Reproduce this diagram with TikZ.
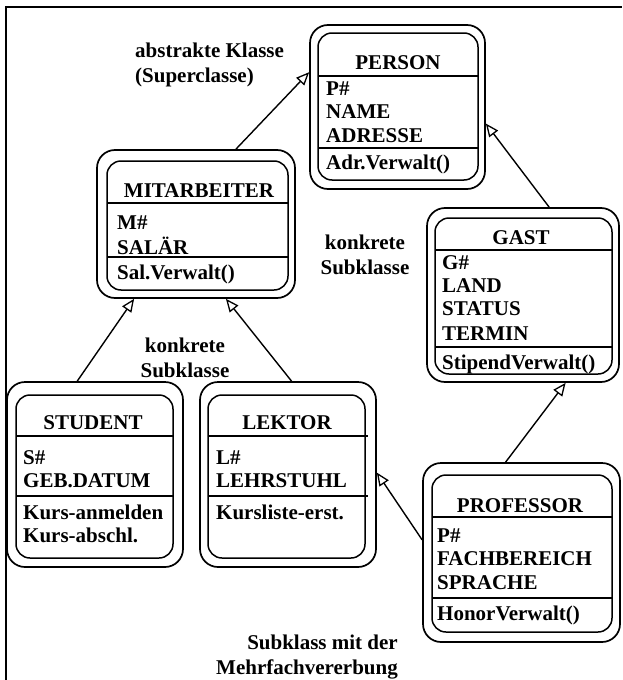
\documentclass[tikz,border=0pt]{standalone}
\usepackage{fontspec}
\setmainfont{Liberation Serif}
\usetikzlibrary{arrows.meta,calc}
\newcommand\ubox[6]{%
  \pgfmathsetmacro\myW{#5-#3}\pgfmathsetmacro\myH{#6-#4}%
  \node[#2, minimum width=\myW pt, minimum height=\myH pt] (#1) at ({(#3+#5)/2},{(#4+#6)/2}) {};}
\begin{document}
\begin{tikzpicture}[x=1pt,y=-1pt,
  outerbox/.style={draw, line width=1.7pt, rounded corners=18pt, inner sep=0pt},
  innerbox/.style={draw, line width=1.5pt, rounded corners=14pt, inner sep=0pt},
  sepline/.style={line width=1.5pt},
  txt/.style={anchor=base west, inner sep=0pt, font=\bfseries\fontsize{21}{23.5}\selectfont},
  ttl/.style={anchor=base, inner sep=0pt, font=\bfseries\fontsize{21}{23.5}\selectfont},
  lbl/.style={inner sep=0pt, font=\bfseries\fontsize{21}{24.5}\selectfont},
  inh/.style={line width=1.4pt, -{Triangle[open, length=13pt, width=11pt, line width=1.3pt]}}]
\useasboundingbox (0,0) rectangle (622,680);
% frame
\draw[line width=2pt] (6,680) -- (6,7) -- (622,7);

% PERSON
\ubox{person}{outerbox}{310}{25}{485}{189}
\ubox{personin}{innerbox}{318}{33}{478}{180}
\node[ttl] (pt) at (398,69) {PERSON};
\draw[sepline] (318,76) -- (479,76);
\node[txt] (p1) at (326,95) {P\#};
\node[txt] (p2) at (326,118) {NAME};
\node[txt] (p3) at (326,142) {ADRESSE};
\draw[sepline] (318,148) -- (478,148);
\node[txt] (p4) at (326,169) {Adr.Verwalt()};

% MITARBEITER
\ubox{mit}{outerbox}{97}{150}{295}{298}
\ubox{mitin}{innerbox}{107}{161}{288}{290}
\node[ttl] (mt) at (199,197) {MITARBEITER};
\draw[sepline] (107,203) -- (289,203);
\node[txt] (m1) at (117,229) {M\#};
\node[txt] (m2) at (117,254) {SAL\"AR};
\draw[sepline] (107,257) -- (288,257);
\node[txt] (m3) at (117,279) {Sal.Verwalt()};

% STUDENT
\ubox{student}{outerbox}{7}{382}{183}{567}
\ubox{studentin}{innerbox}{16}{395}{173}{558}
\node[ttl] (st) at (93,429) {STUDENT};
\draw[sepline] (16,436) -- (174,436);
\node[txt] (s1) at (23,464) {S\#};
\node[txt] (s2) at (23,487) {GEB.DATUM};
\draw[sepline] (16,496) -- (174,496);
\node[txt] (s3) at (23,519) {Kurs-anmelden};
\node[txt] (s4) at (23,542) {Kurs-abschl.};

% LEKTOR
\ubox{lektor}{outerbox}{200}{382}{376}{567}
\ubox{lektorin}{innerbox}{208}{395}{365}{558}
\node[ttl] (lt) at (287,429) {LEKTOR};
\draw[sepline] (208,436) -- (368,436);
\node[txt] (l1) at (216,464) {L\#};
\node[txt] (l2) at (216,487) {LEHRSTUHL};
\draw[sepline] (208,496) -- (368,496);
\node[txt] (l3) at (216,519) {Kursliste-erst.};

% GAST
\ubox{gast}{outerbox}{427}{208}{619}{382}
\ubox{gastin}{innerbox}{435}{218}{612}{374}
\node[ttl] (gt) at (521,244) {GAST};
\draw[sepline] (435,250) -- (612,250);
\node[txt] (g1) at (442,269) {G\#};
\node[txt] (g2) at (442,292) {LAND};
\node[txt] (g3) at (442,315) {STATUS};
\node[txt] (g4) at (442,340) {TERMIN};
\draw[sepline] (435,347) -- (612,347);
\node[txt] (g5) at (442,369) {StipendVerwalt()};

% PROFESSOR
\ubox{prof}{outerbox}{423}{463}{620}{642}
\ubox{profin}{innerbox}{432}{475}{612}{632}
\node[ttl] (prt) at (520,512) {PROFESSOR};
\draw[sepline] (432,517) -- (612,517);
\node[txt] (r1) at (437,542) {P\#};
\node[txt] (r2) at (437,565) {FACHBEREICH};
\node[txt] (r3) at (437,589) {SPRACHE};
\draw[sepline] (432,598) -- (612,598);
\node[txt] (r4) at (437,620) {HonorVerwalt()};

% labels
\node[lbl, align=left, anchor=west] (la) at (135,65) {abstrakte Klasse\\(Superclasse)};
\node[lbl, align=center] (lb) at (365,255) {konkrete\\Subklasse};
\node[lbl, align=center] (lc) at (185,358) {konkrete\\Subklasse};
\node[lbl, align=right, anchor=east] (ld) at (398,657) {Subklass mit der\\Mehrfachvererbung};

% inheritance connectors
\draw[inh] ($(mit.north west)!0.70!(mit.north east)$) -- ($(person.north west)!0.29!(person.south west)$);
\draw[inh] ($(gast.north west)!0.635!(gast.north east)$) -- ($(person.north east)!0.60!(person.south east)$);
\draw[inh] ($(student.north west)!0.40!(student.north east)$) -- ($(mit.south west)!0.19!(mit.south east)$);
\draw[inh] ($(lektor.north west)!0.52!(lektor.north east)$) -- ($(mit.south west)!0.65!(mit.south east)$);
\draw[inh] ($(prof.north west)!0.42!(prof.north east)$) -- ($(gast.south west)!0.72!(gast.south east)$);
\draw[inh] ($(prof.north west)!0.43!(prof.south west)$) -- ($(lektor.north east)!0.49!(lektor.south east)$);
\end{tikzpicture}
\end{document}
